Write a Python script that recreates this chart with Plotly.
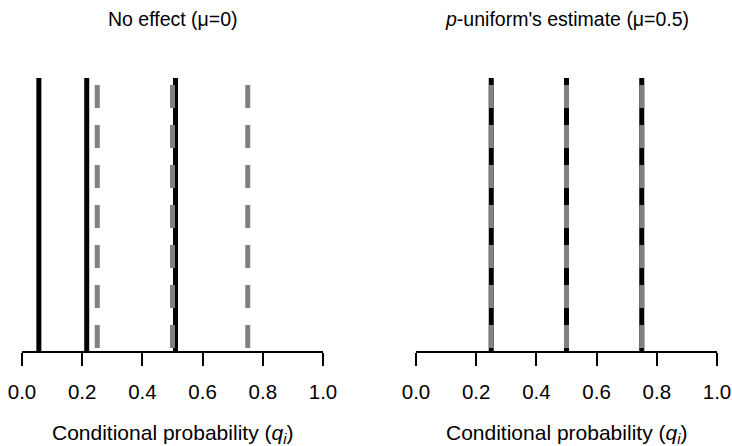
import plotly.graph_objects as go

# ---- data ----
tick_vals = [0.0, 0.2, 0.4, 0.6, 0.8, 1.0]
tick_text = ["0.0", "0.2", "0.4", "0.6", "0.8", "1.0"]

# observed conditional probabilities (black solid lines)
observed_left = [0.056, 0.215, 0.51]
observed_right = [0.25, 0.5, 0.75]
# expected conditional probabilities under uniform (gray dashed lines)
expected_left = [0.25, 0.5, 0.75]
expected_right = [0.25, 0.5, 0.75]

solid_top = 1.0
dashed_top = 0.974

panel_titles = ["No effect (\u03bc=0)", "<i>p</i>-uniform's estimate (\u03bc=0.5)"]
x_title = "Conditional probability (<i>q</i><sub><i>i</i></sub>)"

FONT = "Liberation Sans, Arial, sans-serif"
W, H = 732, 446

fig = go.Figure()

panels = [("x", "y", observed_left, expected_left),
          ("x2", "y2", observed_right, expected_right)]

for xa, ya, obs, exp in panels:
    for q in obs:
        fig.add_trace(go.Scatter(x=[q, q], y=[0, solid_top], mode="lines",
                                 line=dict(color="black", width=5),
                                 xaxis=xa, yaxis=ya, showlegend=False,
                                 hoverinfo="skip"))
    for q in exp:
        fig.add_trace(go.Scatter(x=[q, q], y=[dashed_top, 0], mode="lines",
                                 line=dict(color="#808080", width=5, dash="23px,17px"),
                                 xaxis=xa, yaxis=ya, showlegend=False,
                                 hoverinfo="skip"))

ydom = [(H - 351) / H, (H - 78) / H]
xdom1 = [22 / W, 323 / W]
xdom2 = [416 / W, 717 / W]

xaxis_common = dict(range=[0, 1], tickvals=tick_vals, ticktext=tick_text,
                    showline=True, linecolor="black", linewidth=2,
                    ticks="outside", ticklen=13, tickwidth=2, tickcolor="black",
                    ticklabelstandoff=8,
                    showgrid=False, zeroline=False, automargin=False,
                    tickfont=dict(family=FONT, size=20.5, color="black"),
                    fixedrange=True)
yaxis_common = dict(range=[0, 1], visible=False, showgrid=False,
                    zeroline=False, fixedrange=True, automargin=False)

fig.update_layout(
    width=W, height=H,
    margin=dict(l=0, r=0, t=0, b=0),
    paper_bgcolor="white", plot_bgcolor="white",
    xaxis=dict(domain=xdom1, anchor="y", **xaxis_common),
    yaxis=dict(domain=ydom, anchor="x", **yaxis_common),
    xaxis2=dict(domain=xdom2, anchor="y2", **xaxis_common),
    yaxis2=dict(domain=ydom, anchor="x2", **yaxis_common),
)

for dom, title in zip([xdom1, xdom2], panel_titles):
    cx = (dom[0] + dom[1]) / 2
    fig.add_annotation(x=cx, y=(H - 19) / H, xref="paper", yref="paper",
                       text=title, showarrow=False, xanchor="center",
                       yanchor="middle",
                       font=dict(family=FONT, size=19.5, color="black"))
    fig.add_annotation(x=cx, y=(H - 433.5) / H, xref="paper", yref="paper",
                       text=x_title, showarrow=False, xanchor="center",
                       yanchor="middle",
                       font=dict(family=FONT, size=21, color="black"))

fig.write_html("out.html")
